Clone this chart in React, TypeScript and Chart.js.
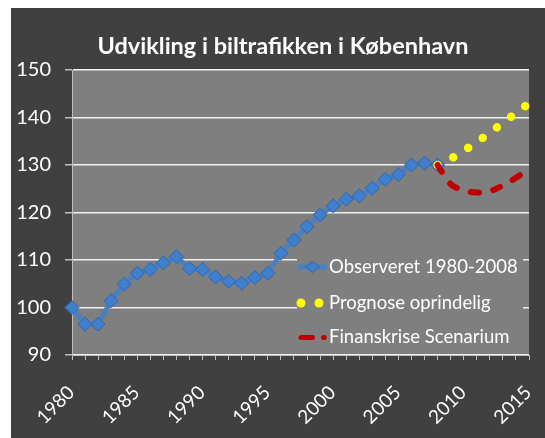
import { useEffect, useRef } from 'react';
import { Chart, registerables } from 'chart.js';

Chart.register(...registerables);

const TITLE = 'Udvikling i biltrafikken i København';

const years = [
  '1980', '1981', '1982', '1983', '1984', '1985', '1986', '1987', '1988', '1989',
  '1990', '1991', '1992', '1993', '1994', '1995', '1996', '1997', '1998', '1999',
  '2000', '2001', '2002', '2003', '2004', '2005', '2006', '2007', '2008', '2009',
  '2010', '2011', '2012', '2013', '2014', '2015',
];

const labeledYears = ['1980', '1985', '1990', '1995', '2000', '2005', '2010', '2015'];

// Observeret 1980-2008
const observed = [
  100, 96.5, 96.5, 101.4, 104.9, 107.2, 108.0, 109.4, 110.7, 108.2,
  108.0, 106.4, 105.5, 105.1, 106.3, 107.2, 111.4, 114.2, 117.0, 119.5,
  121.4, 122.8, 123.5, 125.1, 127.0, 128.0, 130.0, 130.4, 130.0,
];

// 2008-2015
const forecastYears = ['2008', '2009', '2010', '2011', '2012', '2013', '2014', '2015'];
const prognose = [130, 131.3, 133.0, 134.8, 136.8, 138.9, 140.9, 143.0];
const crisis = [130, 126.0, 124.7, 124.2, 124.5, 125.7, 127.3, 129.2];

const seriesNames = ['Observeret 1980-2008', 'Prognose oprindelig', 'Finanskrise Scenarium'];

const yMin = 90;
const yMax = 150;
const yStep = 10;

const BLUE_LINE = '#4a7fc1';
const BLUE_MARK = '#3f7fcc';
const BLUE_MARK_BORDER = '#2f66ad';
const YELLOW = '#ffff00';
const RED = '#c00000';

function alignToYears(ys: string[], vals: number[]): (number | null)[] {
  return years.map((y) => {
    const i = ys.indexOf(y);
    return i >= 0 ? vals[i] : null;
  });
}

const plotBg = {
  id: 'plotBg',
  beforeDraw(chart: any) {
    const { ctx, chartArea: a } = chart;
    ctx.save();
    ctx.fillStyle = '#7f7f7f';
    ctx.fillRect(a.left, a.top, a.right - a.left, a.bottom - a.top);
    ctx.restore();
  },
};

const titleAndLabels = {
  id: 'titleAndLabels',
  afterDraw(chart: any) {
    const { ctx } = chart;
    ctx.save();
    // title
    ctx.fillStyle = '#ffffff';
    ctx.font = 'bold 23.5px Lato';
    ctx.textAlign = 'center';
    ctx.textBaseline = 'middle';
    ctx.fillText(TITLE, 272, 38.4);

    // rotated x labels
    const xs = chart.scales.x;
    ctx.font = '19px Lato';
    years.forEach((lab, i) => {
      if (!labeledYears.includes(lab)) return;
      const px = xs.getPixelForValue(i);
      ctx.save();
      ctx.translate(px - 16.3, xs.top + 50);
      ctx.rotate(-Math.PI / 4);
      ctx.textAlign = 'center';
      ctx.textBaseline = 'middle';
      ctx.fillText(lab, 0, 0);
      ctx.restore();
    });
    ctx.restore();
  },
};

const customLegend = {
  id: 'customLegend',
  afterDraw(chart: any) {
    const { ctx } = chart;
    const ds = chart.data.datasets;
    ctx.save();
    ctx.fillStyle = '#7f7f7f';
    ctx.fillRect(286, 242, 226, 102);
    const rows = [259, 295, 329.5];
    const textX = 318;
    ctx.font = '18.5px Lato';
    ctx.fillStyle = '#ffffff';
    ctx.textBaseline = 'middle';
    ctx.textAlign = 'left';
    rows.forEach((y, i) => ctx.fillText(ds[i].label, textX, y));

    // blue sample
    let y = rows[0];
    ctx.strokeStyle = BLUE_LINE;
    ctx.lineWidth = 5;
    ctx.lineCap = 'butt';
    ctx.beginPath();
    ctx.moveTo(287, y);
    ctx.lineTo(316, y);
    ctx.stroke();
    ctx.fillStyle = BLUE_MARK;
    ctx.strokeStyle = BLUE_MARK_BORDER;
    ctx.lineWidth = 1;
    ctx.beginPath();
    ctx.moveTo(301.5 - 7, y);
    ctx.lineTo(301.5, y - 5.5);
    ctx.lineTo(301.5 + 7, y);
    ctx.lineTo(301.5, y + 5.5);
    ctx.closePath();
    ctx.fill();
    ctx.stroke();

    // yellow sample
    y = rows[1];
    ctx.fillStyle = YELLOW;
    [290, 308].forEach((x) => {
      ctx.beginPath();
      ctx.arc(x, y, 4.5, 0, Math.PI * 2);
      ctx.fill();
    });

    // red sample
    y = rows[2];
    ctx.strokeStyle = RED;
    ctx.lineWidth = 5;
    ctx.lineCap = 'round';
    ctx.beginPath();
    ctx.moveTo(290, y);
    ctx.lineTo(301.5, y);
    ctx.stroke();
    ctx.beginPath();
    ctx.moveTo(312.5, y);
    ctx.lineTo(313.2, y);
    ctx.stroke();
    ctx.restore();
  },
};

export default function App() {
  const canvasRef = useRef<HTMLCanvasElement | null>(null);

  useEffect(() => {
    if (!canvasRef.current) return;
    const chart = new Chart(canvasRef.current, {
      type: 'line',
      data: {
        labels: years,
        datasets: [
          {
            label: seriesNames[0],
            data: alignToYears(years.slice(0, observed.length), observed),
            borderColor: BLUE_LINE,
            borderWidth: 5,
            pointStyle: 'rectRot',
            pointRadius: 7,
            pointBackgroundColor: BLUE_MARK,
            pointBorderColor: BLUE_MARK_BORDER,
            pointBorderWidth: 1,
            tension: 0,
            clip: false,
            order: 3,
          },
          {
            label: seriesNames[1],
            data: alignToYears(forecastYears, prognose),
            borderColor: YELLOW,
            borderWidth: 8.5,
            borderCapStyle: 'round',
            borderDash: [0.01, 17.6],
            pointRadius: 0,
            tension: 0.3,
            clip: false,
            order: 2,
          },
          {
            label: seriesNames[2],
            data: alignToYears(forecastYears, crisis),
            borderColor: RED,
            borderWidth: 6,
            borderCapStyle: 'round',
            borderDash: [8, 14.5],
            pointRadius: 0,
            tension: 0.4,
            clip: false,
            order: 1,
          },
        ],
      },
      options: {
        animation: false,
        responsive: true,
        maintainAspectRatio: false,
        layout: { padding: { left: 0, right: 16, top: 62, bottom: 0 } },
        plugins: {
          legend: { display: false },
          tooltip: { enabled: false },
          title: { display: false },
        },
        scales: {
          x: {
            type: 'category',
            offset: false,
            grid: {
              display: true,
              drawOnChartArea: false,
              drawTicks: true,
              tickLength: 5,
              tickColor: '#bfbfbf',
              color: '#bfbfbf',
            },
            border: { display: true, color: '#bfbfbf', width: 1 },
            ticks: {
              display: false,
              autoSkip: false,
            },
            afterFit: (s: any) => {
              s.height = 83;
            },
          },
          y: {
            min: yMin,
            max: yMax,
            ticks: {
              stepSize: yStep,
              padding: 14,
              color: '#ffffff',
              font: { family: 'Lato', size: 20 },
            },
            grid: {
              color: '#f0f0f0',
              lineWidth: 1.5,
              tickLength: 7,
              tickColor: '#bfbfbf',
            },
            border: { display: true, color: '#bfbfbf', width: 1 },
            afterFit: (s: any) => {
              s.width = 61;
            },
          },
        },
      },
      plugins: [plotBg, customLegend, titleAndLabels],
    });
    return () => chart.destroy();
  }, []);

  return (
    <div
      style={{
        position: 'fixed',
        left: 11,
        top: 8,
        width: 534,
        height: 430,
        background: '#404040',
      }}
    >
      <canvas ref={canvasRef} />
    </div>
  );
}
